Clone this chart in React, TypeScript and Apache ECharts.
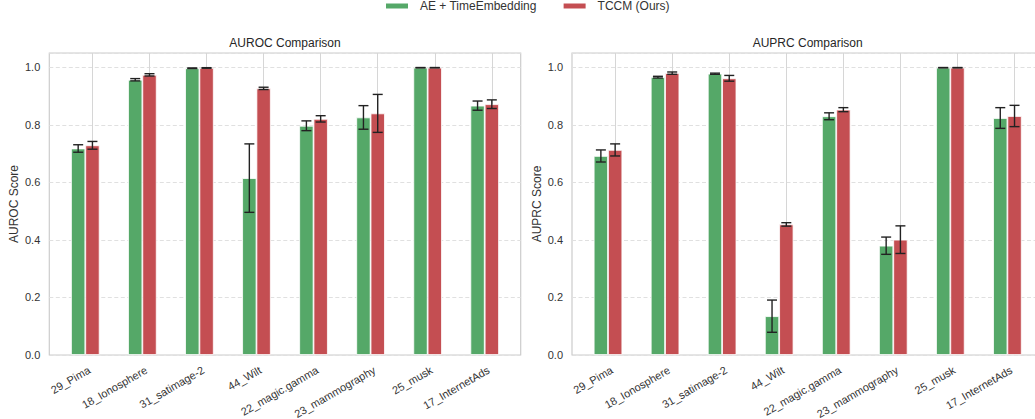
import React, { useEffect, useRef } from "react";
import * as echarts from "echarts";

const categories = [
  "29_Pima",
  "18_Ionosphere",
  "31_satimage-2",
  "44_Wilt",
  "22_magic.gamma",
  "23_mammography",
  "25_musk",
  "17_InternetAds",
];

const seriesNames = ["AE + TimeEmbedding", "TCCM (Ours)"];

// AUROC
const aurocAE = [0.718, 0.957, 0.997, 0.615, 0.797, 0.826, 0.999, 0.867];
const aurocAEErr = [0.013, 0.004, 0.001, 0.119, 0.017, 0.041, 0.0005, 0.016];
const aurocTCCM = [0.729, 0.974, 0.998, 0.927, 0.821, 0.84, 0.999, 0.872];
const aurocTCCMErr = [0.0135, 0.004, 0.001, 0.004, 0.011, 0.066, 0.0005, 0.015];

// AUPRC
const auprcAE = [0.692, 0.966, 0.978, 0.135, 0.83, 0.38, 0.999, 0.824];
const auprcAEErr = [0.021, 0.003, 0.002, 0.056, 0.012, 0.03, 0.0005, 0.036];
const auprcTCCM = [0.713, 0.98, 0.962, 0.454, 0.853, 0.401, 0.999, 0.831];
const auprcTCCMErr = [0.021, 0.004, 0.01, 0.006, 0.007, 0.048, 0.0005, 0.037];

const yTicks = [0, 0.2, 0.4, 0.6, 0.8, 1.0];

const GREEN = "#55a868";
const RED = "#c44e52";
const FONT = "Liberation Sans, Arial, sans-serif";
const TEXT = "#333333";
const BAR_OFFSET = 0.125;
const TICK_SHIFT = 0.125;
const LABEL_SHIFT = 0.068;

function errorSeries(name: string, xi: number, yi: number, means: number[], errs: number[], offset: number) {
  return {
    name,
    type: "custom",
    xAxisIndex: xi,
    yAxisIndex: yi,
    z: 5,
    silent: true,
    data: means.map((m, i) => [i + offset, m, errs[i]]),
    renderItem: (params: any, api: any) => {
      const x = api.value(0);
      const m = api.value(1);
      const e = api.value(2);
      const top = api.coord([x, m + e]);
      const bot = api.coord([x, m - e]);
      const style = { stroke: "#222222", lineWidth: 1.4 };
      const cap = 5;
      return {
        type: "group",
        children: [
          { type: "line", shape: { x1: top[0], y1: top[1], x2: bot[0], y2: bot[1] }, style },
          { type: "line", shape: { x1: top[0] - cap, y1: top[1], x2: top[0] + cap, y2: top[1] }, style },
          { type: "line", shape: { x1: bot[0] - cap, y1: bot[1], x2: bot[0] + cap, y2: bot[1] }, style },
        ],
      };
    },
  };
}

function barSeries(name: string, xi: number, yi: number, values: number[], color: string) {
  return {
    name,
    type: "bar",
    xAxisIndex: xi,
    yAxisIndex: yi,
    barWidth: 14.3,
    barGap: "0%",
    data: values.map((v, i) => [i, v]),
    itemStyle: { color, borderColor: "#ffffff", borderWidth: 0.8 },
  };
}

export default function App() {
  const ref = useRef<HTMLDivElement>(null);
  useEffect(() => {
    if (!ref.current) return;
    const chart = echarts.init(ref.current, undefined, { renderer: "svg" });
    const tickVals = categories.map((_, i) => i + TICK_SHIFT);
    const labelVals = categories.map((_, i) => i + LABEL_SHIFT);
    const gridBase = {
      top: 53,
      height: 302,
      width: 471.4,
      show: true,
      borderColor: "#cccccc",
      borderWidth: 1.2,
      backgroundColor: "#ffffff",
      containLabel: false,
      outerBoundsMode: "none",
    };
    const xAxisBase = (gi: number) => ({
      gridIndex: gi,
      type: "value",
      min: -0.631,
      max: 7.631,
      axisLine: { show: false },
      axisTick: { show: false, customValues: tickVals },
      splitLine: { show: true, lineStyle: { color: "#d6d6d6", width: 1 } },
      axisLabel: {
        customValues: labelVals,
        rotate: 30,
        margin: 14,
        fontSize: 11,
        color: TEXT,
        fontFamily: FONT,
        formatter: (v: number) => categories[Math.round(v)] ?? "",
      },
    });
    const yAxisBase = (gi: number, name: string) => ({
      gridIndex: gi,
      type: "value",
      min: 0,
      max: 1.05,
      interval: 0.2,
      name,
      nameLocation: "middle",
      nameGap: 29,
      nameTextStyle: { fontSize: 12, color: TEXT, fontFamily: FONT },
      axisLine: { show: false },
      axisTick: { show: false },
      axisLabel: {
        showMaxLabel: false,
        margin: 9,
        fontSize: 11,
        color: TEXT,
        fontFamily: FONT,
        formatter: (v: number) => (yTicks.some((t) => Math.abs(t - v) < 1e-6) ? v.toFixed(1) : ""),
      },
      splitLine: { show: true, lineStyle: { color: "#e0e0e0", width: 1, type: [4, 2.5] } },
    });

    chart.setOption({
      animation: false,
      backgroundColor: "#ffffff",
      textStyle: { fontFamily: FONT },
      title: [
        {
          text: "AUROC Comparison",
          left: 285,
          top: 37,
          padding: 0,
          textAlign: "center",
          textStyle: { fontSize: 12, fontWeight: "normal", color: "#262626", fontFamily: FONT },
        },
        {
          text: "AUPRC Comparison",
          left: 807.7,
          top: 37,
          padding: 0,
          textAlign: "center",
          textStyle: { fontSize: 12, fontWeight: "normal", color: "#262626", fontFamily: FONT },
        },
      ],
      legend: {
        data: seriesNames,
        top: 0,
        left: 384,
        padding: 0,
        icon: "rect",
        itemWidth: 24,
        itemHeight: 7,
        itemGap: 25,
        formatter: (n: string) => `{g|}${n}`,
        textStyle: {
          fontSize: 12,
          color: TEXT,
          fontFamily: FONT,
          rich: { g: { width: 6 } },
        },
      },
      grid: [
        { ...gridBase, left: 49.3 },
        { ...gridBase, left: 572 },
      ],
      xAxis: [xAxisBase(0), xAxisBase(1)],
      yAxis: [yAxisBase(0, "AUROC Score"), yAxisBase(1, "AUPRC Score")],
      series: [
        barSeries(seriesNames[0], 0, 0, aurocAE, GREEN),
        barSeries(seriesNames[1], 0, 0, aurocTCCM, RED),
        barSeries(seriesNames[0], 1, 1, auprcAE, GREEN),
        barSeries(seriesNames[1], 1, 1, auprcTCCM, RED),
        errorSeries("err-auroc-ae", 0, 0, aurocAE, aurocAEErr, -BAR_OFFSET),
        errorSeries("err-auroc-tccm", 0, 0, aurocTCCM, aurocTCCMErr, BAR_OFFSET),
        errorSeries("err-auprc-ae", 1, 1, auprcAE, auprcAEErr, -BAR_OFFSET),
        errorSeries("err-auprc-tccm", 1, 1, auprcTCCM, auprcTCCMErr, BAR_OFFSET),
      ],
    });
    return () => chart.dispose();
  }, []);
  return (
    <div
      ref={ref}
      style={{ position: "fixed", left: 0, top: 0, width: 1035, height: 419, background: "#fff" }}
    />
  );
}
